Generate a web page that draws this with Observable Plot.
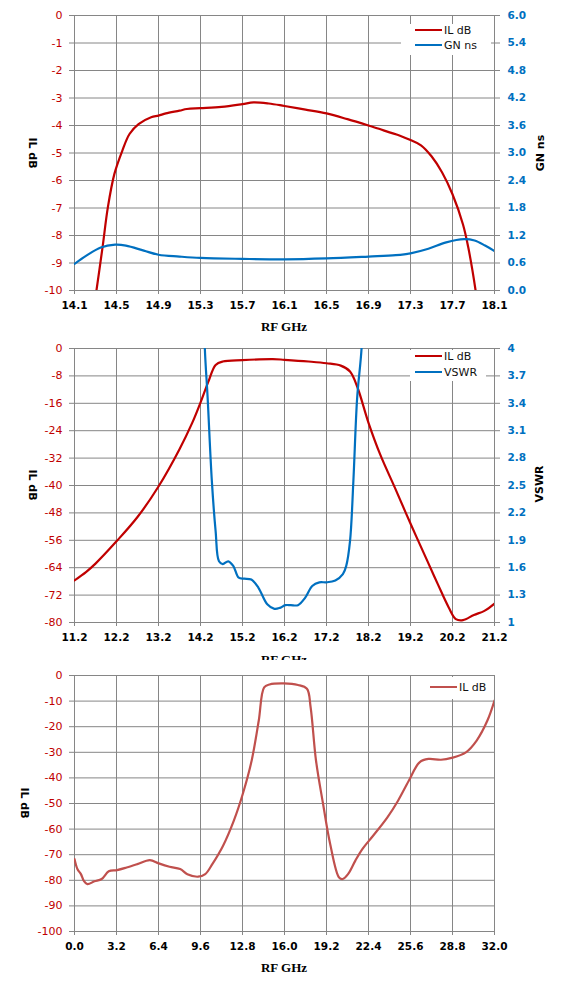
<!DOCTYPE html>
<html><head><meta charset="utf-8">
<script src="https://cdn.jsdelivr.net/npm/d3@7"></script>
<script src="https://cdn.jsdelivr.net/npm/@observablehq/plot@0.6"></script>
<style>
body{margin:0;background:#fff}
#root{position:relative;width:564px;height:994px;overflow:hidden;background:#fff}
.panel{position:absolute;left:0;width:564px;background:#fff;overflow:visible}
.t{position:absolute;white-space:nowrap;transform:translate(-50%,-50%);line-height:1}
.lg{position:absolute;background:#fff}
.lgrow{position:absolute;left:0;white-space:nowrap;font:11px "DejaVu Sans",sans-serif;color:#111;line-height:1}
.lgline{display:inline-block;width:27px;height:2.5px;vertical-align:middle;margin-right:2px;position:relative;top:-1px}
</style></head><body><div id="root"></div>
<script>
// ---------- Chart 1: IL dB and GN ns, 14.1 – 18.1 GHz ----------
const c1XTicks = [14.1,14.5,14.9,15.3,15.7,16.1,16.5,16.9,17.3,17.7,18.1];
const c1YTicks = [0,-1,-2,-3,-4,-5,-6,-7,-8,-9,-10];
const c1IlX = [14.25,14.309,14.367,14.418,14.48,14.555,14.624,14.71,14.83,14.9,14.97,15.1,15.17,15.3,15.5,15.7,15.805,15.95,16.1,16.3,16.5,16.7,16.9,17.0,17.1,17.2,17.3,17.4,17.5,17.6,17.7,17.8,17.85,17.92,17.97];
const c1IlY = [-11.5,-10,-8.43,-6.97,-5.76,-4.92,-4.31,-3.95,-3.70,-3.64,-3.56,-3.46,-3.40,-3.37,-3.32,-3.22,-3.16,-3.20,-3.29,-3.42,-3.56,-3.77,-4.0,-4.12,-4.25,-4.37,-4.53,-4.72,-5.12,-5.7,-6.5,-7.6,-8.43,-10,-11.5];
const c1GnX = [14.1,14.213,14.35,14.487,14.59,14.76,14.9,15.1,15.3,15.7,16.1,16.5,16.9,17.16,17.3,17.47,17.64,17.81,17.91,18.01,18.1];
const c1GnY = [0.58,0.76,0.94,1.0,0.98,0.87,0.78,0.74,0.71,0.69,0.68,0.70,0.74,0.77,0.81,0.91,1.05,1.12,1.09,0.98,0.86];

// ---------- Chart 2: IL dB and VSWR, 11.2 – 21.2 GHz ----------
const c2XTicks = [11.2,12.2,13.2,14.2,15.2,16.2,17.2,18.2,19.2,20.2,21.2];
const c2YTicks = [0,-8,-16,-24,-32,-40,-48,-56,-64,-72,-80];
const c2IlX = [11.2,11.48,11.7,12.2,12.7,13.2,13.7,14.0,14.2,14.39,14.56,14.73,15.2,15.92,16.2,16.77,17.2,17.54,17.76,17.93,18.2,18.48,18.83,19.21,19.6,19.85,20.11,20.28,20.45,20.71,20.96,21.2];
const c2IlY = [-67.7,-65.2,-62.8,-56.3,-49.2,-40.3,-29.4,-21.8,-15.8,-9.6,-4.8,-3.8,-3.4,-3.1,-3.3,-3.8,-4.3,-5.0,-6.7,-11.1,-21.7,-31.0,-40.7,-51.4,-62.0,-68.8,-75.6,-79.0,-79.3,-77.8,-76.6,-74.5];
const c2VsX = [14.27,14.3,14.37,14.47,14.56,14.64,14.73,14.86,14.98,15.11,15.24,15.41,15.58,15.79,15.96,16.09,16.22,16.35,16.52,16.69,16.86,17.03,17.2,17.41,17.59,17.67,17.76,17.84,17.93,18.04,18.08];
const c2VsY = [5.0,4.04,3.46,2.55,2.0,1.67,1.64,1.67,1.62,1.49,1.48,1.47,1.38,1.20,1.15,1.16,1.19,1.19,1.19,1.27,1.40,1.44,1.44,1.46,1.53,1.62,1.89,2.55,3.46,4.04,5.0];

// ---------- Chart 3: IL dB, 0 – 32 GHz ----------
const c3XTicks = [0,3.2,6.4,9.6,12.8,16.0,19.2,22.4,25.6,28.8,32.0];
const c3YTicks = [0,-10,-20,-30,-40,-50,-60,-70,-80,-90,-100];
const c3IlX = [0,0.22,0.49,0.71,0.98,1.52,2.07,2.61,3.24,3.97,4.79,5.74,6.42,7.24,8.05,8.6,9.41,9.96,10.5,11.32,12.14,12.82,13.5,14.04,14.45,14.86,15.95,17.03,17.71,17.99,18.4,18.94,19.48,20.16,20.44,20.84,21.39,21.93,22.75,23.84,24.65,25.47,26.29,26.97,27.92,28.73,29.82,30.64,31.46,32];
const c3IlY = [-71.7,-75.6,-77.6,-80.2,-81.5,-80.4,-79.5,-76.5,-76.0,-75.0,-73.7,-72.1,-73.4,-74.7,-75.6,-77.6,-78.6,-77.6,-73.7,-66.5,-56.7,-46.3,-33.2,-17.6,-4.6,-3.5,-3.1,-3.7,-5.2,-12.4,-33.2,-50.2,-65.8,-78.9,-79.5,-77.6,-72.4,-67.8,-62.6,-55.4,-48.9,-41.1,-33.9,-32.6,-32.9,-32.2,-30.0,-25.4,-17.6,-9.8];

const RED = "#c00000", BLUE = "#0070c0", RED3 = "#c0504d", GRID = "#868686";
const root = document.getElementById("root");

function pts(xs, ys, f = v => v) { return xs.map((x, i) => ({x, y: f(ys[i])})); }

function makeChart({top, height, mt, mb, xd, yd, xt, yt, xf, rf, series, z}) {
  const panel = document.createElement("div");
  panel.className = "panel";
  panel.style.top = top + "px";
  panel.style.height = height + "px";
  panel.style.zIndex = z;
  const marks = [
    Plot.gridX(xt, {stroke: GRID, strokeOpacity: 1, strokeWidth: 1}),
    Plot.gridY(yt, {stroke: GRID, strokeOpacity: 1, strokeWidth: 1}),
    Plot.axisX(xt, {tickSize: 4, tickPadding: 7, tickFormat: xf, label: null, stroke: GRID, fill: "#000", fontSize: 10.5, fontWeight: "bold"}),
    Plot.axisY(yt, {anchor: "left", tickSize: 5, tickPadding: 7, tickFormat: d => String(d), label: null, stroke: GRID, fill: RED, fontSize: 11})
  ];
  if (rf) marks.push(Plot.axisY(yt, {anchor: "right", tickSize: 5, tickPadding: 8, tickFormat: rf, label: null, stroke: GRID, fill: BLUE, fontSize: 10.5, fontWeight: "bold"}));
  for (const s of series) marks.push(Plot.line(s.data, {x: "x", y: "y", stroke: s.color, strokeWidth: 2.2, curve: "catmull-rom", clip: true}));
  const svg = Plot.plot({
    width: 564, height, marginLeft: 74, marginRight: 70, marginTop: mt, marginBottom: mb,
    x: {domain: xd}, y: {domain: yd},
    style: {background: "transparent", fontFamily: "DejaVu Sans, sans-serif", overflow: "visible"},
    marks
  });
  panel.appendChild(svg);
  root.appendChild(panel);
}

function text(str, x, y, css, rot = 0, z = 5) {
  const d = document.createElement("div");
  d.className = "t";
  d.textContent = str;
  d.style.left = x + "px"; d.style.top = y + "px";
  d.style.cssText += css;
  d.style.transform = `translate(-50%,-50%) rotate(${rot}deg)`;
  d.style.zIndex = z;
  root.appendChild(d);
}

function legend(x, y, w, h, rows, z = 5) {
  const box = document.createElement("div");
  box.className = "lg";
  Object.assign(box.style, {left: x + "px", top: y + "px", width: w + "px", height: h + "px", zIndex: z});
  rows.forEach((r) => {
    const row = document.createElement("div");
    row.className = "lgrow";
    row.style.left = r.dx + "px";
    row.style.top = (r.dy) + "px";
    const ln = document.createElement("span");
    ln.className = "lgline";
    ln.style.background = r.color;
    row.appendChild(ln);
    row.appendChild(document.createTextNode(r.label));
    box.appendChild(row);
  });
  root.appendChild(box);
}

const f1 = d => d.toFixed(1);
const sansB = "font:bold 11px 'DejaVu Sans',sans-serif;color:#000;";
const serifB = "font:bold 13px 'Liberation Serif',serif;color:#000;";

// Chart 1
makeChart({top: 0, height: 330, mt: 15, mb: 40, xd: [14.1, 18.1], yd: [-10, 0], xt: c1XTicks, yt: c1YTicks, xf: f1,
  rf: d => ((d + 10) / 10 * 6).toFixed(1),
  series: [
    {data: pts(c1IlX, c1IlY), color: RED},
    {data: pts(c1GnX, c1GnY, v => -10 + v / 6 * 10), color: BLUE}
  ], z: 1});
text("IL dB", 32, 153, sansB, 90);
text("GN ns", 540, 153, sansB, -90);
text("RF GHz", 284, 327, serifB);
legend(401, 24, 90, 31, [{dx: 14, dy: 1, color: RED, label: "IL dB"}, {dx: 14, dy: 16, color: BLUE, label: "GN ns"}]);

// Chart 2
makeChart({top: 330, height: 330, mt: 18, mb: 38, xd: [11.2, 21.2], yd: [-80, 0], xt: c2XTicks, yt: c2YTicks, xf: f1,
  rf: d => String(+((d + 80) / 80 * 3 + 1).toFixed(1)),
  series: [
    {data: pts(c2IlX, c2IlY), color: RED},
    {data: pts(c2VsX, c2VsY, v => -80 + (v - 1) / 3 * 80), color: BLUE}
  ], z: 1});
text("IL dB", 32, 485, sansB, 90);
text("VSWR", 539, 484, sansB, -90);
text("RF GHz", 284, 660, serifB, 0, 2);
legend(410, 350, 76, 31, [{dx: 5, dy: 1, color: RED, label: "IL dB"}, {dx: 5, dy: 17, color: BLUE, label: "VSWR"}]);

// Chart 3
makeChart({top: 660, height: 334, mt: 15, mb: 63, xd: [0, 32], yd: [-100, 0], xt: c3XTicks, yt: c3YTicks, xf: f1,
  rf: null,
  series: [{data: pts(c3IlX, c3IlY), color: RED3}], z: 3});
text("IL dB", 24, 803, sansB, 90);
text("RF GHz", 284, 968, serifB);
legend(426, 677, 66, 22, [{dx: 4, dy: 5, color: RED3, label: "IL dB"}]);
</script></body></html>
